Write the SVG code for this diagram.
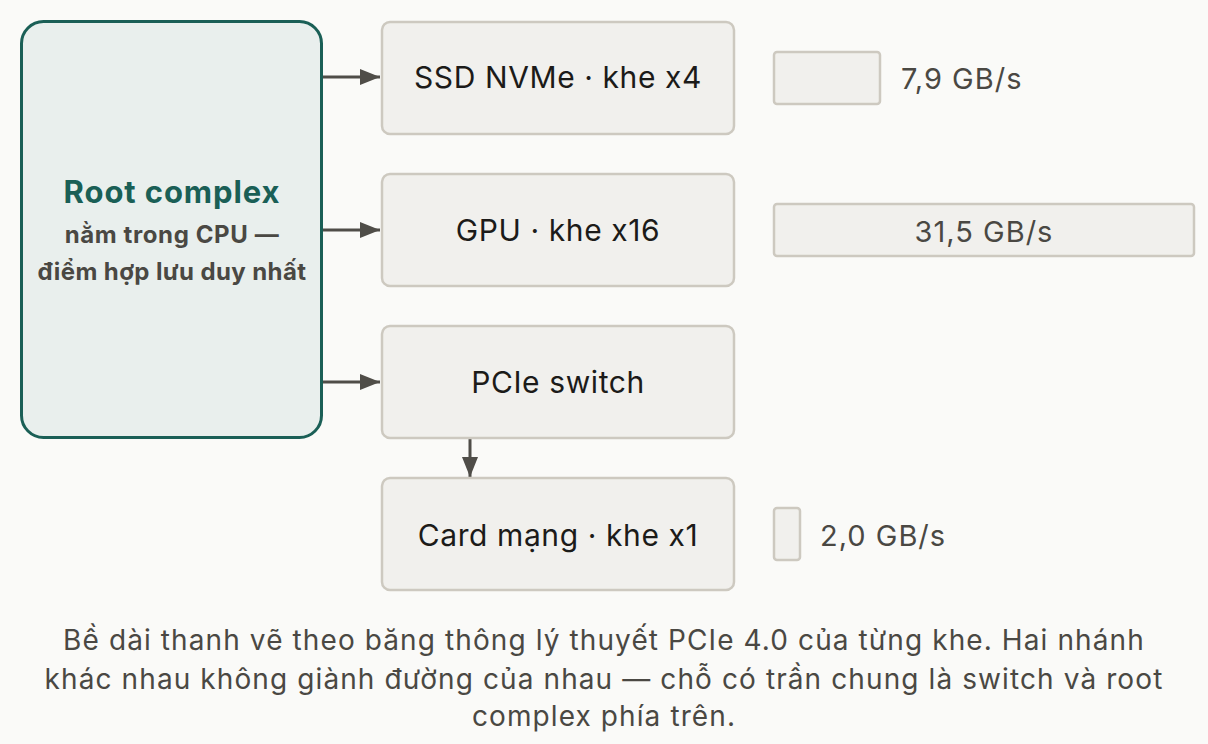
<svg xmlns="http://www.w3.org/2000/svg" width="1208" height="744" viewBox="0 0 1208 744">
<style>
text{font-family:"Inter","Noto Sans",sans-serif}
.box{fill:#f1f0ed;stroke:#cdc9c0;stroke-width:2.5}
.lbl{font-size:30px;letter-spacing:0.6px;fill:#1c1b19;text-anchor:middle}
.bar{fill:#f1f0ed;stroke:#cdc9c0;stroke-width:2.5}
.val{font-size:29px;letter-spacing:1px;fill:#4a4843}
.cap{font-size:28px;letter-spacing:1.1px;fill:#4a4843;text-anchor:middle}
</style>
<defs>
<marker id="ah2" markerWidth="20" markerHeight="20" refX="20" refY="10" orient="auto" markerUnits="userSpaceOnUse"><path d="M0,2 L20,10 L0,18Z" fill="#4f4d48"/></marker></defs>
<rect width="1208" height="744" fill="#fafaf8"/>
<g id="connectors" stroke="#4f4d48" stroke-width="3">
<path d="M322,77 H380" marker-end="url(#ah2)"/>
<path d="M322,230 H380" marker-end="url(#ah2)"/>
<path d="M322,382 H380" marker-end="url(#ah2)"/>
<path d="M470,438 V477" marker-end="url(#ah2)"/>
</g>
<g id="root"><rect x="21.5" y="21.5" width="300" height="416" rx="22" fill="#e9efed" stroke="#1a5f56" stroke-width="3"/>
<text x="172" y="203" text-anchor="middle" font-size="31" font-weight="700" letter-spacing="0.9" fill="#1a5f56">Root complex</text>
<text x="172" y="243" text-anchor="middle" font-size="24" font-weight="700" letter-spacing="0.6" fill="#4a4843">nằm trong CPU —</text>
<text x="172" y="280" text-anchor="middle" font-size="24" font-weight="700" letter-spacing="0.4" fill="#4a4843">điểm hợp lưu duy nhất</text></g>
<g id="ssd"><rect class="box" x="382" y="22" width="352" height="112" rx="8"/><text class="lbl" x="558" y="88">SSD NVMe · khe x4</text></g>
<g id="gpu"><rect class="box" x="382" y="174" width="352" height="112" rx="8"/><text class="lbl" x="558" y="241">GPU · khe x16</text></g>
<g id="switch"><rect class="box" x="382" y="326" width="352" height="112" rx="8"/><text class="lbl" x="558" y="393">PCIe switch</text></g>
<g id="nic"><rect class="box" x="382" y="478" width="352" height="112" rx="8"/><text class="lbl" x="558" y="546">Card mạng · khe x1</text></g>
<g id="bars">
<rect class="bar" x="774" y="52" width="106" height="52" rx="3"/><text class="val" x="901" y="89">7,9 GB/s</text>
<rect class="bar" x="774" y="204" width="420" height="52" rx="3"/><text class="val" x="984" y="242" text-anchor="middle" fill="#1c1b19" font-size="31">31,5 GB/s</text>
<rect class="bar" x="774" y="508" width="26" height="52" rx="3"/><text class="val" x="820" y="546">2,0 GB/s</text>
</g>
<g id="caption">
<text class="cap" x="604" y="650">Bề dài thanh vẽ theo băng thông lý thuyết PCIe 4.0 của từng khe. Hai nhánh</text>
<text class="cap" x="604" y="689">khác nhau không giành đường của nhau — chỗ có trần chung là switch và root</text>
<text class="cap" x="604" y="726">complex phía trên.</text>
</g>
</svg>
